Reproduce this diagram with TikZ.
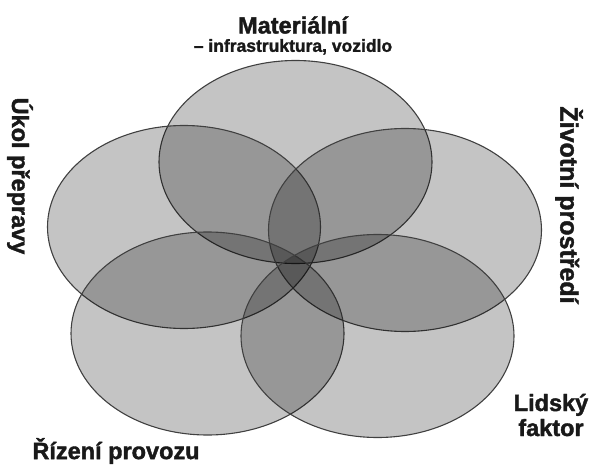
\documentclass[tikz,border=0pt]{standalone}
\usepackage{fontspec}
\setmainfont{Liberation Sans}[BoldFeatures={FakeBold=1.6}]
\usepackage{tikz}
\usetikzlibrary{shapes.geometric, positioning}

\begin{document}
\begin{tikzpicture}[
        x=1pt, y=-1pt,
        petal/.style={ellipse, draw=black!75, line width=1.1pt, fill=black, fill opacity=0.23, inner sep=0pt, minimum width=273pt, minimum height=203pt},
        title/.style={text=black!90, font=\fontsize{23.5}{25}\selectfont\bfseries, inner sep=0pt},
        subtitle/.style={text=black!90, font=\fontsize{17.5}{19}\selectfont\bfseries, inner sep=0pt}
    ]
    \useasboundingbox (0,0) rectangle (590,466);

    % --- PETALS ---
    \node (mat) [petal] at (295.5,162) {};
    \node (ukol) [petal] at (184,227) {};
    \node (ziv) [petal] at (405,230) {};
    \node (riz) [petal] at (207.5,333.5) {};
    \node (lid) [petal] at (377.5,336) {};

    % --- LABELS ---
    \node (matl) [title] at (293,25) {Materiální};
    \node (matsub) [subtitle, below=5pt of matl] {– infrastruktura, vozidlo};
    \node (ukoll) [title, rotate=-90] at (20,176) {Úkol přepravy};
    \node (zivl) [title, rotate=-90, font=\fontsize{25}{27}\selectfont\bfseries] at (569,205) {Životní prostředí};
    \node (lidl) [title, align=center] at (551,415) {Lidský\\faktor};
    \node (rizl) [title] at (116,451) {Řízení provozu};

\end{tikzpicture}
\end{document}
